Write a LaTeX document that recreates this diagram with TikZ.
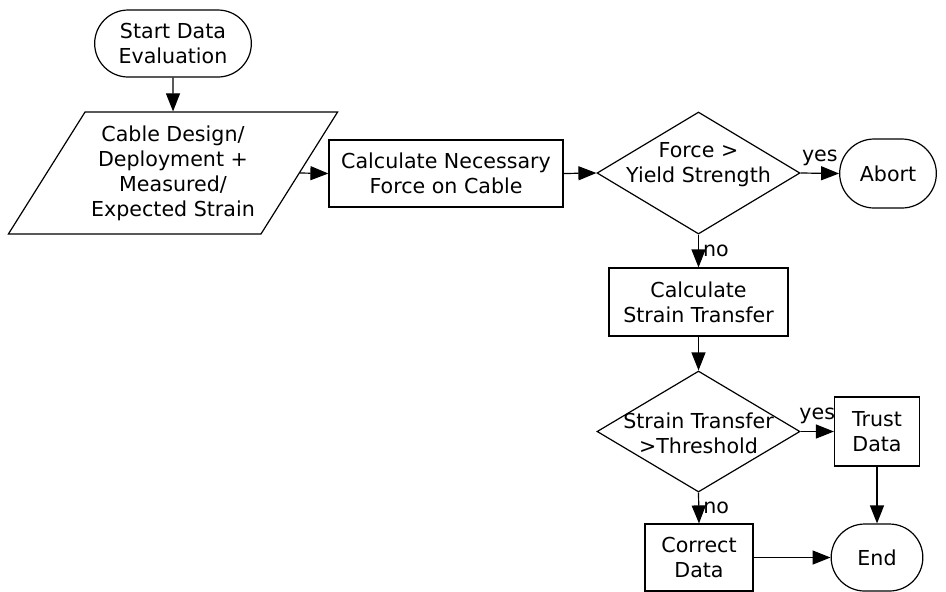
\documentclass[tikz,border=0pt]{standalone}
\usepackage{fontspec}
\setmainfont{DejaVu Sans}
\usetikzlibrary{shapes.geometric,shapes.misc,arrows.meta}
\begin{document}
\begin{tikzpicture}[x=0.5pt,y=-0.5pt,line width=0.6pt,
  font=\fontsize{10.3}{12.5}\selectfont,
  terminal/.style={draw,rounded rectangle,minimum height=33.5pt,align=center},
  process/.style={draw,rectangle,minimum height=33.5pt,align=center,inner sep=2pt},
  inout/.style={draw,trapezium,trapezium left angle=54,trapezium right angle=126,trapezium stretches=true,minimum width=165pt,minimum height=61pt,inner sep=2pt,align=center},
  decision/.style={draw,diamond,minimum width=101.5pt,minimum height=61pt,inner sep=0pt},
  flow/.style={-{Triangle[length=9pt,width=7pt]}}]
\useasboundingbox (0,0) rectangle (946,591);
%
\node[terminal,minimum width=85pt] (start) at (173,43.5) {Start Data\\Evaluation};
\node[inout] (input) at (173,173) {Cable Design/\\Deployment +\\Measured/\\Expected Strain};
\node[process,minimum width=117pt] (force) at (446,173.5) {Calculate Necessary\\Force on Cable};
\node[decision,label={[align=center,yshift=4pt]center:Force >\\Yield Strength}] (yield) at (698.5,173) {};
\node[terminal,minimum width=55pt,minimum height=34.5pt] (abort) at (888,173.5) {Abort};
%
\node[process,minimum width=89.5pt,minimum height=34pt] (strain) at (698.5,302) {Calculate\\Strain Transfer};
\node[decision,minimum height=60.5pt,label={[align=center,yshift=-1pt]center:Strain Transfer\\>Threshold}] (thresh) at (698.5,431.5) {};
\node[process,minimum width=42.5pt,minimum height=34.5pt] (trust) at (877,431.5) {Trust\\Data};
\node[process,minimum width=54pt] (correct) at (699,557.5) {Correct\\Data};
\node[terminal,minimum width=52.5pt] (finish) at (877,557.5) {End};
%
\draw[flow] (start) -- (input);
\draw[flow] (input.east) -- (force.west);
\draw[flow] (force.east) -- (yield.west);
\draw[flow] (yield.east) -- node[above]{yes} (abort.west);
\draw[flow] (yield.south) -- node[right,inner sep=2pt]{no} (strain.north);
\draw[flow] (strain.south) -- (thresh.north);
\draw[flow] (thresh.east) -- node[above]{yes} (trust.west);
\draw[flow] (thresh.south) -- node[right,inner sep=2pt]{no} (correct.north);
\draw[flow] (trust.south) -- (finish.north);
\draw[flow] (correct.east) -- (finish.west);
\end{tikzpicture}
\end{document}
